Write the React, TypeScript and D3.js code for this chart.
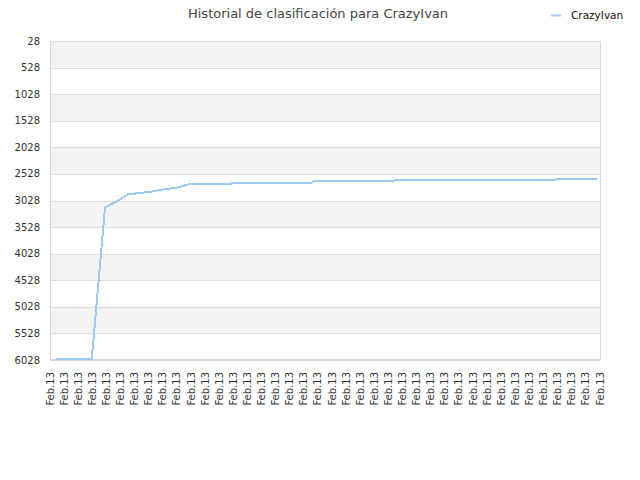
import React from 'react';
import * as d3 from 'd3';

// rank history, x given in tick-index units (0 = first label)
const title = 'Historial de clasificación para CrazyIvan';
const seriesName = 'CrazyIvan';

const xLabels = Array(40).fill('Feb.13');
const yTicks = [28, 528, 1028, 1528, 2028, 2528, 3028, 3528, 4028, 4528, 5028, 5528, 6028];

const pointX = [0.43, 2.96, 3.9, 4.02, 4.61, 5.08, 5.51, 6.26, 7.21, 7.8, 9.1, 9.93, 12.83, 12.9, 18.58, 18.65, 24.32, 24.4, 30.14, 30.2, 35.88, 35.95, 38.79];
const pointRank = [6012, 6012, 3163, 3145, 3060, 2990, 2915, 2890, 2860, 2830, 2780, 2717, 2717, 2690, 2690, 2670, 2670, 2650, 2650, 2640, 2640, 2620, 2620];

const W = 640;
const H = 480;
const margin = { top: 41, right: 40, bottom: 120, left: 50 };
const font = 'DejaVu Sans, sans-serif';
const lineColor = '#9ec9f5';

export default function App() {
	const w = W - margin.left - margin.right;
	const h = H - margin.top - margin.bottom;

	const x = d3.scaleLinear().domain([0, xLabels.length - 1]).range([0, w]);
	const y = d3.scaleLinear().domain([yTicks[0], yTicks[yTicks.length - 1]]).range([0, h]);

	const data = pointX.map((px, i) => ({ x: px, y: pointRank[i] }));
	const lineFn = d3.line<{ x: number; y: number }>()
		.x((d) => x(d.x))
		.y((d) => y(d.y));

	return (
		<svg width={W} height={H} style={{ position: 'absolute', left: 0, top: 0 }} fontFamily={font}>
			<rect width={W} height={H} fill="#fff" />
			<text x={318} y={18} textAnchor="middle" fontSize={13} fill="#444">{title}</text>

			<line x1={551} x2={561} y1={15.5} y2={15.5} stroke={lineColor} strokeWidth={2} />
			<text x={571} y={18.5} fontSize={10.5} fill="#111">{seriesName}</text>

			<g transform={`translate(${margin.left},${margin.top})`}>
				{yTicks.slice(0, -1).map((t, i) => (
					<rect key={'b' + t} x={0} y={y(t)} width={w} height={y(yTicks[i + 1]) - y(t)}
						fill={i % 2 === 0 ? '#f3f3f3' : '#ffffff'} />
				))}
				{yTicks.map((t) => (
					<line key={'g' + t} x1={0} x2={w} y1={Math.round(y(t)) + 0.5} y2={Math.round(y(t)) + 0.5}
						stroke="#dddddd" strokeWidth={1} />
				))}
				<line x1={0.5} x2={0.5} y1={0} y2={h} stroke="#d6d6d6" />
				<line x1={w + 0.5} x2={w + 0.5} y1={0} y2={h} stroke="#d6d6d6" />
				<line x1={0} x2={w} y1={h} y2={h} stroke="#d6d6d6" strokeWidth={2} />

				{yTicks.map((t) => (
					<text key={'y' + t} x={-10} y={y(t)} dy="0.35em" textAnchor="end" fontSize={10} fill="#333">{t}</text>
				))}

				{xLabels.map((l, i) => (
					<text key={'x' + i} transform={`translate(${x(i) + 3.5},${h + 12}) rotate(-90)`}
						textAnchor="end" fontSize={10} fill="#333">{l}</text>
				))}

				<path d={lineFn(data) ?? ''} fill="none" stroke={lineColor} strokeWidth={2} shapeRendering="crispEdges" />
			</g>
		</svg>
	);
}
